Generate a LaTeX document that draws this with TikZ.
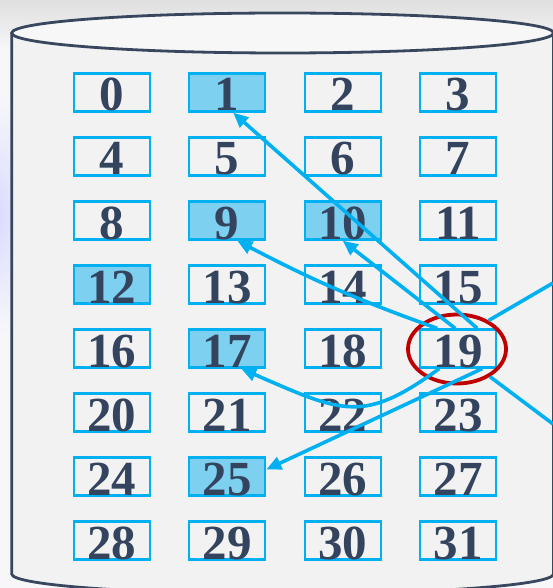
\documentclass[tikz,border=0pt]{standalone}
\usepackage{fontspec}
\setmainfont{Liberation Serif}
\usepackage{tikz}
\usetikzlibrary{arrows.meta, shapes.geometric}
\definecolor{cellblue}{RGB}{0, 176, 240}
\definecolor{hitblue}{RGB}{125, 208, 240}
\definecolor{inkgray}{RGB}{52, 68, 94}
\definecolor{cylgray}{RGB}{242, 242, 242}
\definecolor{lidgray}{RGB}{247, 247, 247}
\definecolor{cylline}{RGB}{56, 70, 94}
\definecolor{selred}{RGB}{192, 0, 0}
\definecolor{pagebg}{RGB}{247, 247, 250}
\tikzset{
    cellbox/.style={draw=cellblue, line width=2.3pt, minimum width=76pt, minimum height=38pt,
        inner sep=0pt, text height=37pt, text depth=0pt, text=inkgray,
        font=\fontsize{49}{49}\selectfont\bfseries},
    link/.style={->, cellblue, line width=3.6pt},
}

\begin{document}
\begin{tikzpicture}[x=1pt, y=1pt, >={Triangle[length=15pt, width=13pt]}]
    \useasboundingbox (0,0) rectangle (553,-588);
    \fill[pagebg] (0,0) rectangle (553,-588);
    \shade[top color=gray!25, bottom color=pagebg] (0,0) rectangle (553,-50);
    \shade[inner color=blue!14, outer color=pagebg] (0,-215) ellipse (34 and 120);
    \draw[cylline, line width=2.8pt, fill=cylgray] (11.7,-33) -- (11.7,-574)
        arc (180:360:270.9 and 20) -- (553.5,-33);
    \draw[cylline, line width=2.8pt, fill=lidgray] (282.6,-33) ellipse (270.9 and 20);
    \foreach \n in {0,...,31} {
        \pgfmathtruncatemacro\c{mod(\n,4)}
        \pgfmathtruncatemacro\r{div(\n,4)}
        \pgfmathtruncatemacro\h{(\n==1)||(\n==9)||(\n==10)||(\n==12)||(\n==17)||(\n==25)}
        \ifnum\h=1 \def\cellfill{hitblue}\else\def\cellfill{none}\fi
        \node[cellbox, fill=\cellfill] (b\n) at ({111.7+115.5*\c},{-92.5-64*\r}) {\n};
    }
    \node[ellipse, draw=selred, line width=3.8pt, minimum width=98pt, minimum height=69pt,
        inner sep=0pt] (sel) at (457,-349) {};
    \coordinate (outup) at (553,-283);
    \coordinate (outdown) at (553,-424);
    \draw[link] ([xshift=19pt]b19.north) -- ([xshift=6pt]b1.south);
    \draw[link] ([xshift=-21pt]b19.north) to[bend left=4] ([xshift=10pt]b9.south);
    \draw[link] ([xshift=-3pt]b19.north) -- (b10.south);
    \draw[link] ([xshift=-19pt]b19.south) .. controls (363,-424) and (343,-413) .. ([xshift=14pt]b17.south);
    \draw[link] ([xshift=24pt]b19.south) -- ([yshift=7pt]b25.east);
    \draw[link, -] (sel.42) -- (outup);
    \draw[link, -] (sel.-40) -- (outdown);
\end{tikzpicture}
\end{document}
